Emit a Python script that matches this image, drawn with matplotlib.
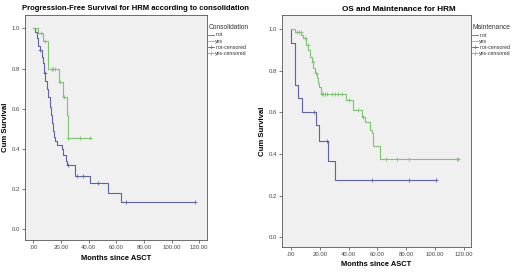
import numpy as np
import matplotlib
matplotlib.use('Agg')
import matplotlib.pyplot as plt
from matplotlib.lines import Line2D

# ---------------- Data ----------------
# Left: PFS by consolidation
pfs_not_t = [0, 1.0, 2.5, 3.5, 4.8, 6.0, 7.2, 8.0, 8.8, 9.7, 10.5, 12.0, 13.0, 13.8,
             14.5, 14.7, 15.7, 17.4, 20.5, 21.7, 23.4, 24.1, 30.4, 40.8, 53.9, 63.5]
pfs_not_s = [1.0, 0.98, 0.95, 0.91, 0.89, 0.86, 0.83, 0.78, 0.74, 0.70, 0.66, 0.61, 0.57, 0.53,
             0.49, 0.46, 0.44, 0.42, 0.40, 0.37, 0.34, 0.32, 0.266, 0.23, 0.18, 0.136]
pfs_not_end = 117
pfs_not_cens = [5.0, 8.4, 25.0, 31.8, 36.2, 46.6, 66.7, 117]

pfs_yes_t = [0, 3.6, 7.2, 10.4, 18.6, 21.7, 24.1, 24.9]
pfs_yes_s = [1.0, 0.976, 0.935, 0.80, 0.735, 0.66, 0.57, 0.455]
pfs_yes_end = 41.5
pfs_yes_cens = [5.5, 8.4, 13.3, 14.5, 15.7, 19.5, 22.5, 25.4, 33.8, 41.1]

# Right: OS by maintenance
os_not_t = [0, 0.3, 2.8, 5.1, 7.4, 17.0, 19.4, 25.9, 30.8]
os_not_s = [1.0, 0.933, 0.733, 0.667, 0.60, 0.54, 0.46, 0.366, 0.275]
os_not_end = 101
os_not_cens = [16.2, 24.8, 56.5, 82, 100.5]

os_yes_t = [0, 2.8, 7.2, 8.6, 10.2, 12.1, 13.2, 14.4, 15.5, 16.7, 17.9, 19.0, 19.7, 20.8,
            38.0, 43.3, 49.0, 51.4, 54.9, 56.5, 57.2, 61.8]
os_yes_s = [1.0, 0.987, 0.97, 0.955, 0.923, 0.90, 0.867, 0.84, 0.811, 0.787, 0.763, 0.74, 0.723, 0.69,
            0.66, 0.611, 0.579, 0.555, 0.515, 0.50, 0.44, 0.374]
os_yes_end = 117
os_yes_cens = [4.0, 5.5, 6.9, 9.5, 11.5, 15.0, 17.3, 21.3, 22.4, 23.6, 24.8, 28.3, 30.6, 32.9,
               35.2, 40.0, 46.5, 50.0, 65.7, 73.4, 82.0, 115.0, 116.2]

x_ticks = [0, 20, 40, 60, 80, 100, 120]
x_tick_labels = ['.00', '20.00', '40.00', '60.00', '80.00', '100.00', '120.00']
y_ticks = [0.0, 0.2, 0.4, 0.6, 0.8, 1.0]
y_tick_labels = ['0.0', '0.2', '0.4', '0.6', '0.8', '1.0']

# ---------------- Style ----------------
BLUE = '#5d62a8'
GREEN = '#7cc46e'
BG = '#f0f0f0'
SPINE = '#555555'
NARROW = ['Liberation Sans Narrow', 'Liberation Sans', 'DejaVu Sans']

fig = plt.figure(figsize=(5.2, 2.77), dpi=100)
fig.patch.set_facecolor('white')


def km(ax, t, s, end, cens, color):
    tt = list(t) + [end]
    ss = list(s) + [s[-1]]
    ax.step(tt, ss, where='post', color=color, lw=0.8)
    t_arr = np.array(t)
    cy = [s[np.searchsorted(t_arr, c, side='right') - 1] for c in cens]
    ax.plot(cens, cy, ls='none', marker='+', ms=3, mew=0.6, color=color)


def style(ax, xlim, ylim):
    ax.set_facecolor(BG)
    ax.set_xlim(*xlim)
    ax.set_ylim(*ylim)
    ax.set_xticks(x_ticks)
    ax.set_xticklabels(x_tick_labels)
    ax.set_yticks(y_ticks)
    ax.set_yticklabels(y_tick_labels)
    for sp in ax.spines.values():
        sp.set_color(SPINE)
        sp.set_linewidth(0.6)
    ax.tick_params(length=2, width=0.5, pad=1.5, labelsize=4.3, colors='#444444')
    for lab in ax.get_xticklabels() + ax.get_yticklabels():
        lab.set_family(NARROW)
    ax.set_xlabel('Months since ASCT', fontsize=5.4, fontweight='bold', family=NARROW, labelpad=3.5)
    ax.set_ylabel('Cum Survival', fontsize=5.6, fontweight='bold', family=NARROW, labelpad=2)


def legend(ax, title):
    handles = [
        Line2D([], [], color=BLUE, lw=0.6),
        Line2D([], [], color=GREEN, lw=0.6),
        Line2D([], [], color=BLUE, lw=0.6, marker='+', ms=2.5, mew=0.5),
        Line2D([], [], color=GREEN, lw=0.6, marker='+', ms=2.5, mew=0.5),
    ]
    labels = ['not', 'yes', 'not-censored', 'yes-censored']
    leg = ax.legend(handles, labels, title=title, loc='upper left', bbox_to_anchor=(1.0, 0.965),
                    frameon=False, title_fontsize=4.8, handlelength=1.1,
                    handletextpad=0.25, labelspacing=0.22, borderaxespad=0.25, borderpad=0,
                    alignment='left', prop={'family': NARROW, 'size': 3.8})
    leg.get_title().set_family(NARROW)
    leg.get_title().set_color('#333333')
    for txt in leg.get_texts():
        txt.set_color('#333333')


def fit_title(txt, target_px):
    fig.canvas.draw()
    w = txt.get_window_extent().width
    txt.set_fontsize(txt.get_fontsize() * target_px / w)


# Left panel
ax1 = fig.add_axes([25 / 520, 1 - 240 / 277, 182 / 520, 225 / 277])
km(ax1, pfs_not_t, pfs_not_s, pfs_not_end, pfs_not_cens, BLUE)
km(ax1, pfs_yes_t, pfs_yes_s, pfs_yes_end, pfs_yes_cens, GREEN)
style(ax1, (-6.0, 125.6), (-0.055, 1.067))
legend(ax1, 'Consolidation')
t1 = fig.text(136 / 520, 1 - 8 / 277, 'Progression-Free Survival for HRM according to consolidation',
              ha='center', va='center', fontsize=6.3, fontweight='bold', family=NARROW)

# Right panel
ax2 = fig.add_axes([281.7 / 520, 1 - 246.7 / 277, 189.3 / 520, 231.7 / 277])
km(ax2, os_not_t, os_not_s, os_not_end, os_not_cens, BLUE)
km(ax2, os_yes_t, os_yes_s, os_yes_end, os_yes_cens, GREEN)
style(ax2, (-6.5, 125.0), (-0.045, 1.067))
legend(ax2, 'Maintenance')
t2 = fig.text(399 / 520, 1 - 9.5 / 277, 'OS and Maintenance for HRM',
              ha='center', va='center', fontsize=6.5, fontweight='bold', family=NARROW)

fit_title(t1, 228)
fit_title(t2, 114)

fig.savefig('out.png', dpi=100, facecolor='white')
